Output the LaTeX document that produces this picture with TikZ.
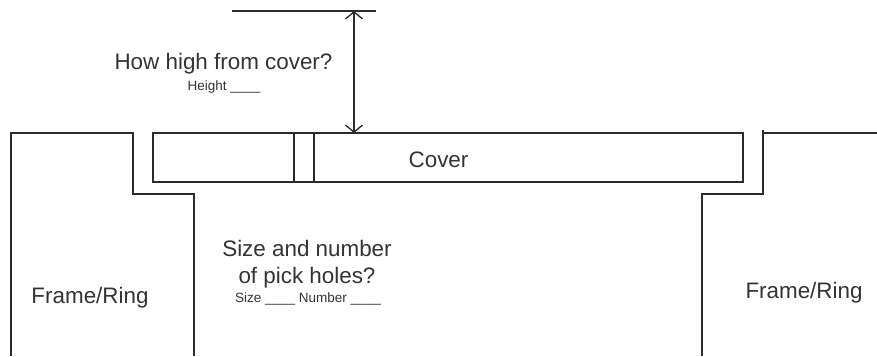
\documentclass[tikz,border=0pt]{standalone}
\usepackage{fontspec}
\setmainfont{Liberation Sans}
\usetikzlibrary{arrows.meta}
\definecolor{ink}{HTML}{2B2B2B}
\definecolor{txt}{HTML}{333333}
\tikzset{
  x=1pt,y=-1pt,
  wall/.style={draw=ink,line width=1.4pt,line cap=butt,line join=miter},
  big/.style={anchor=base,inner sep=0pt,text=txt,font=\fontsize{22.4}{26}\selectfont},
  small/.style={anchor=base,inner sep=0pt,text=txt,font=\fontsize{13.5}{16}\selectfont},
  measure/.style={draw=ink,line width=1.4pt,{Straight Barb[length=7pt,width=17pt]}-{Straight Barb[length=7pt,width=17pt]}}
}
\begin{document}
\begin{tikzpicture}
\useasboundingbox (0,0) rectangle (877,356);
% coordinates
\coordinate (top1) at (232,11);
\coordinate (top2) at (376,11);
\coordinate (arrT) at (354,11);
\coordinate (arrB) at (354,133);
% frames
\draw[wall] (11,356) -- (11,133) -- (133,133) -- (133,194) -- (194,194) -- (194,356);
\draw[wall] (702,356) -- (702,194) -- (763,194) -- (763,130);
\draw[wall] (763,133) -- (877,133);
% cover
\node[wall,minimum width=590pt,minimum height=49pt,inner sep=0pt,outer sep=0pt,anchor=north west] (cover) at (153,133) {};
\draw[wall] (294,133) -- (294,182);
\draw[wall] (314,133) -- (314,182);
% height marker
\draw[wall] (top1) -- (top2);
\draw[measure] (arrT) -- (arrB);
% text
\node[big] (tcover) at (438.5,167) {Cover};
\node[big] (q1) at (223.5,69) {How high from cover?};
\node[small] (h) at (224,90) {Height \_\_\_\_};
\node[big] (q2a) at (307,256) {Size and number};
\node[big] (q2b) at (307,283) {of pick holes?};
\node[small] (sn) at (308,302) {Size \_\_\_\_ Number \_\_\_\_};
\node[big] (fl) at (90,303) {Frame/Ring};
\node[big] (fr) at (804,298) {Frame/Ring};
\end{tikzpicture}
\end{document}
